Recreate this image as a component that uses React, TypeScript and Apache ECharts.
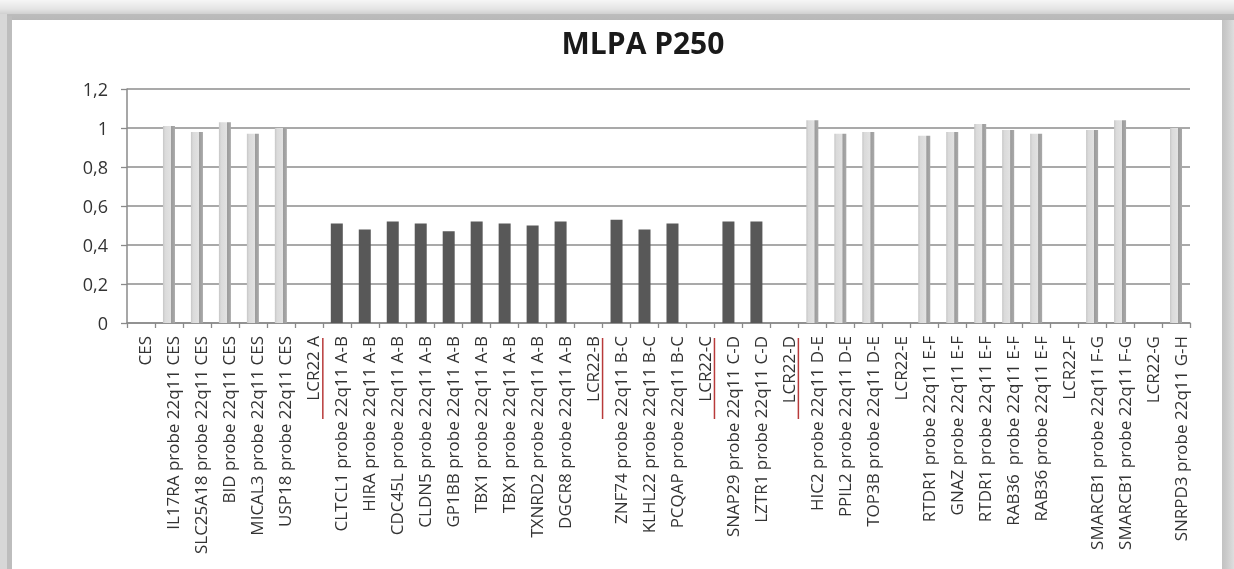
import React, { useEffect, useRef } from "react";
import * as echarts from "echarts";

// Probe / region names along the x axis (22q11 MLPA kit P250)
const categories: string[] = [
  "CES",
  "IL17RA probe 22q11 CES",
  "SLC25A18 probe 22q11 CES",
  "BID probe 22q11 CES",
  "MICAL3 probe 22q11 CES",
  "USP18 probe 22q11 CES",
  "LCR22 A",
  "CLTCL1 probe 22q11 A-B",
  "HIRA probe 22q11 A-B",
  "CDC45L probe 22q11 A-B",
  "CLDN5 probe 22q11 A-B",
  "GP1BB probe 22q11 A-B",
  "TBX1 probe 22q11 A-B",
  "TBX1 probe 22q11 A-B",
  "TXNRD2 probe 22q11 A-B",
  "DGCR8 probe 22q11 A-B",
  "LCR22-B",
  "ZNF74 probe 22q11 B-C",
  "KLHL22 probe 22q11 B-C",
  "PCQAP probe 22q11 B-C",
  "LCR22-C",
  "SNAP29 probe 22q11 C-D",
  "LZTR1 probe 22q11 C-D",
  "LCR22-D",
  "HIC2 probe 22q11 D-E",
  "PPIL2 probe 22q11 D-E",
  "TOP3B probe 22q11 D-E",
  "LCR22-E",
  "RTDR1 probe 22q11 E-F",
  "GNAZ probe 22q11 E-F",
  "RTDR1 probe 22q11 E-F",
  "RAB36  probe 22q11 E-F",
  "RAB36 probe 22q11 E-F",
  "LCR22-F",
  "SMARCB1 probe 22q11 F-G",
  "SMARCB1 probe 22q11 F-G",
  "LCR22-G",
  "SNRPD3 probe 22q11 G-H",
];

// Relative probe ratio per category (null = no probe / LCR marker)
const ratios: (number | null)[] = [
  null, 1.01, 0.98, 1.03, 0.97, 1.0,
  null, 0.51, 0.48, 0.52, 0.51, 0.47, 0.52, 0.51, 0.5, 0.52,
  null, 0.53, 0.48, 0.51,
  null, 0.52, 0.52,
  null, 1.04, 0.97, 0.98,
  null, 0.96, 0.98, 1.02, 0.99, 0.97,
  null, 0.99, 1.04,
  null, 1.0,
];

// Regions deleted in the sample (drawn in dark grey)
const deletedRegions: string[] = ["A-B", "B-C", "C-D"];

// LCR boundary labels that are underlined in red
const underlinedLcr: string[] = ["LCR22 A", "LCR22-B", "LCR22-C", "LCR22-D"];

const yTicks = { min: 0, max: 1.2, interval: 0.2 };

const W = 1234;
const H = 569;
const FONT = "'Open Sans', 'Noto Sans', sans-serif";

const lightBar = new echarts.graphic.LinearGradient(0, 0, 1, 0, [
  { offset: 0, color: "#c6c6c6" },
  { offset: 0.18, color: "#dadada" },
  { offset: 0.66, color: "#e2e2e2" },
  { offset: 0.7, color: "#9c9c9c" },
  { offset: 1, color: "#a9a9a9" },
]);

function isDeleted(name: string): boolean {
  return deletedRegions.some((r) => name.endsWith(r));
}

function frameGraphics() {
  return [
    {
      id: "bg",
      type: "rect",
      shape: { x: 0, y: 0, width: W, height: H },
      style: { fill: "#ffffff" },
      z: -10,
      silent: true,
    },
    {
      id: "frameTop",
      type: "rect",
      shape: { x: 0, y: 0, width: W, height: 20 },
      style: {
        fill: new echarts.graphic.LinearGradient(0, 0, 0, 1, [
          { offset: 0, color: "#f6f6f6" },
          { offset: 0.45, color: "#e4e4e4" },
          { offset: 0.7, color: "#d0d0d0" },
          { offset: 0.72, color: "#bcbcbc" },
          { offset: 1, color: "#b8b8b8" },
        ]),
      },
      z: -5,
      silent: true,
    },
    {
      id: "frameLeftOuter",
      type: "rect",
      shape: { x: 0, y: 14, width: 7, height: H - 14 },
      style: { fill: "#d7d7d7" },
      z: -5,
      silent: true,
    },
    {
      id: "frameLeftInner",
      type: "rect",
      shape: { x: 7, y: 16, width: 5, height: H - 16 },
      style: { fill: "#bdbdbd" },
      z: -5,
      silent: true,
    },
    {
      id: "frameRight",
      type: "rect",
      shape: { x: 1222, y: 20, width: W - 1222, height: H - 20 },
      style: {
        fill: new echarts.graphic.LinearGradient(0, 0, 1, 0, [
          { offset: 0, color: "#c2c2c2" },
          { offset: 0.4, color: "#cbcbcb" },
          { offset: 1, color: "#dedede" },
        ]),
      },
      z: -5,
      silent: true,
    },
  ];
}

export default function App() {
  const ref = useRef<HTMLDivElement>(null);

  useEffect(() => {
    if (!ref.current) return;
    const chart = echarts.init(ref.current, null, { renderer: "svg" });

    const option: any = {
      animation: false,
      backgroundColor: "transparent",
      title: {
        text: "MLPA P250",
        left: 638,
        top: 22,
        textAlign: "center",
        textStyle: {
          fontFamily: FONT,
          fontWeight: "bold",
          fontSize: 30,
          color: "#1a1a1a",
        },
      },
      grid: { left: 127, right: 44, top: 89, bottom: 246, containLabel: false },
      xAxis: {
        type: "category",
        data: categories,
        boundaryGap: true,
        axisLine: { show: true, lineStyle: { color: "#8a8a8a", width: 1.5 } },
        axisTick: {
          show: true,
          alignWithLabel: false,
          length: 5,
          lineStyle: { color: "#8a8a8a", width: 1.3 },
        },
        axisLabel: {
          interval: 0,
          rotate: 90,
          margin: 13,
          verticalAlign: "top",
          lineHeight: 8,
          fontFamily: FONT,
          fontSize: 17,
          color: "#333333",
        },
      },
      yAxis: {
        type: "value",
        min: yTicks.min,
        max: yTicks.max,
        interval: yTicks.interval,
        axisLine: { show: true, lineStyle: { color: "#8a8a8a", width: 1.5 } },
        axisTick: { show: true, length: 6, lineStyle: { color: "#8a8a8a", width: 1.3 } },
        splitLine: { show: true, lineStyle: { color: "#8c8c8c", width: 1.5 } },
        axisLabel: {
          margin: 19,
          fontFamily: FONT,
          fontSize: 18,
          color: "#333333",
          formatter: (v: number) => String(Number(v.toFixed(1))).replace(".", ","),
        },
      },
      series: [
        {
          type: "bar",
          barWidth: 12,
          data: ratios.map((v, i) => ({
            value: v,
            itemStyle: { color: isDeleted(categories[i]) ? "#585858" : lightBar },
          })),
        },
      ],
      graphic: frameGraphics(),
    };

    chart.setOption(option);

    // red underline next to the rotated LCR22 boundary labels
    const lines = underlinedLcr.map((name, k) => {
      const x = chart.convertToPixel({ xAxisIndex: 0 }, name) as number;
      const y0 = chart.convertToPixel({ yAxisIndex: 0 }, 0) as number;
      return {
        id: "lcr" + k,
        type: "line",
        shape: { x1: x + 14, y1: y0 + 15, x2: x + 14, y2: y0 + 96 },
        style: { stroke: "#b83a3a", lineWidth: 1.5 },
        silent: true,
      };
    });
    chart.setOption({ graphic: [...frameGraphics(), ...lines] });

    return () => chart.dispose();
  }, []);

  return (
    <div
      ref={ref}
      style={{ position: "fixed", left: 0, top: 0, width: W, height: H }}
    />
  );
}
